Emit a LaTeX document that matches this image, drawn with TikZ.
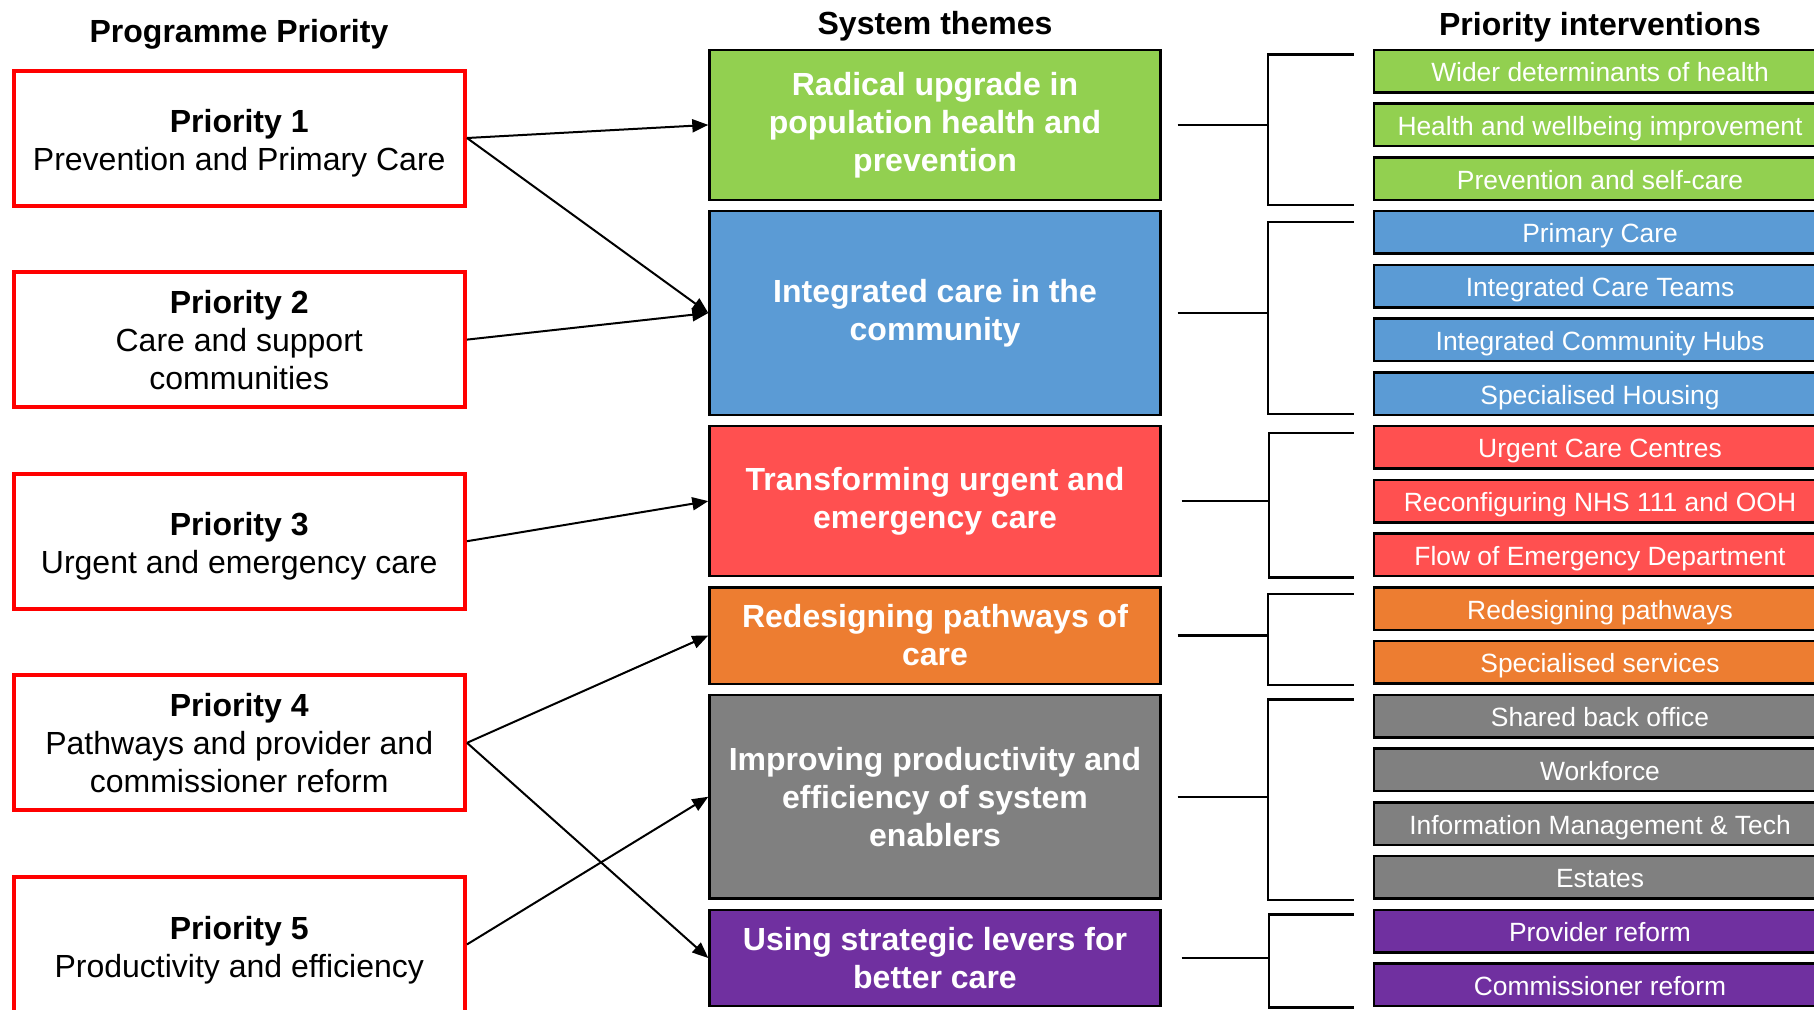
\documentclass[tikz,border=0pt]{standalone}
\usepackage{fontspec}
\setmainfont{Liberation Sans}
\usetikzlibrary{positioning,arrows.meta}
\definecolor{popgreen}{HTML}{92D050}
\definecolor{carblue}{HTML}{5B9BD5}
\definecolor{urgred}{HTML}{FF5050}
\definecolor{pathorange}{HTML}{ED7D31}
\definecolor{enabgray}{HTML}{808080}
\definecolor{levpurple}{HTML}{7030A0}
\newcommand{\toplift}{\rule{0pt}{17pt}}

\begin{document}
\begin{tikzpicture}[
    x=0.5pt, y=-0.5pt,
    font=\fontsize{16}{19}\selectfont,
    node distance=4.375pt and 20pt,
    prio/.style={draw=red, line width=2pt, align=center, fill=white,
                 minimum width=225.75pt, minimum height=67.5pt},
    theme/.style={draw=black, line width=1.2pt, align=center, text=white,
                  minimum width=225.5pt, font=\fontsize{16}{19}\selectfont\bfseries},
    task/.style={draw=black, line width=1.2pt, text=white, inner sep=0pt,
                 text height=11.3pt, text depth=0.9pt,
                 minimum width=226pt, minimum height=21.3pt, font=\fontsize{13.2}{15}\selectfont},
    heading/.style={font=\fontsize{16}{19}\selectfont\bfseries},
    arrow/.style={-{Triangle[length=8pt,width=6.5pt]}, line width=1pt},
    brace/.style={line width=1.2pt},
  ]
    \useasboundingbox (0,0) rectangle (1814,1009);

    % column headings
    \node[heading] (hprio)  at (239,34.5)  {Programme Priority};
    \node[heading] (htheme) at (935,26.5)  {System themes};
    \node[heading] (htask)  at (1600,27)   {Priority interventions};

    % programme priorities
    \node[prio] (p1) at (239.25,138) {\toplift\textbf{Priority 1}\\Prevention and Primary Care};
    \node[prio, below=31.3pt of p1] (p2) {\textbf{Priority 2}\\Care and support\\communities};
    \node[prio, below=31.3pt of p2] (p3) {\toplift\textbf{Priority 3}\\Urgent and emergency care};
    \node[prio, below=31.3pt of p3] (p4) {\textbf{Priority 4}\\Pathways and provider and\\commissioner reform};
    \node[prio, below=31.3pt of p4] (p5) {\toplift\textbf{Priority 5}\\Productivity and efficiency};

    % system themes
    \node[theme, fill=popgreen,   minimum height=75pt]    (radical)  at (935,124.9)
       {Radical upgrade in\\population health and\\prevention};
    \node[theme, fill=carblue,    minimum height=101.9pt] (intcare)  at (935,313)
       {Integrated care in the\\community};
    \node[theme, fill=urgred,     minimum height=75pt]    (urgent)   at (935,501.1)
       {Transforming urgent and\\emergency care};
    \node[theme, fill=pathorange, minimum height=48.2pt]  (pathways) at (935,635.5)
       {Redesigning pathways of\\care};
    \node[theme, fill=enabgray,   minimum height=101.9pt] (enablers) at (935,796.7)
       {Improving productivity and\\efficiency of system\\enablers};
    \node[theme, fill=levpurple,  minimum height=48.2pt]  (levers)   at (935,958)
       {Using strategic levers for\\better care};

    % priority interventions
    \node[task, fill=popgreen] (t1) at (1600,71.1) {Wider determinants of health};
    \node[task, fill=popgreen,   below=of t1]  (t2)  {Health and wellbeing improvement};
    \node[task, fill=popgreen,   below=of t2]  (t3)  {Prevention and self-care};
    \node[task, fill=carblue,    below=of t3]  (t4)  {Primary Care};
    \node[task, fill=carblue,    below=of t4]  (t5)  {Integrated Care Teams};
    \node[task, fill=carblue,    below=of t5]  (t6)  {Integrated Community Hubs};
    \node[task, fill=carblue,    below=of t6]  (t7)  {Specialised Housing};
    \node[task, fill=urgred,     below=of t7]  (t8)  {Urgent Care Centres};
    \node[task, fill=urgred,     below=of t8]  (t9)  {Reconfiguring NHS 111 and OOH};
    \node[task, fill=urgred,     below=of t9]  (t10) {Flow of Emergency Department};
    \node[task, fill=pathorange, below=of t10] (t11) {Redesigning pathways};
    \node[task, fill=pathorange, below=of t11] (t12) {Specialised services};
    \node[task, fill=enabgray,   below=of t12] (t13) {Shared back office};
    \node[task, fill=enabgray,   below=of t13] (t14) {Workforce};
    \node[task, fill=enabgray,   below=of t14] (t15) {Information Management \& Tech};
    \node[task, fill=enabgray,   below=of t15] (t16) {Estates};
    \node[task, fill=levpurple,  below=of t16] (t17) {Provider reform};
    \node[task, fill=levpurple,  below=of t17] (t18) {Commissioner reform};

    % priorities to themes
    \draw[arrow] (p1.east) -- (radical.west);
    \draw[arrow] (p1.east) -- (intcare.west);
    \draw[arrow] (p2.east) -- (intcare.west);
    \draw[arrow] (p3.east) -- (urgent.west);
    \draw[arrow] (p4.east) -- (pathways.west);
    \draw[arrow] (p4.east) -- (levers.west);
    \draw[arrow] (p5.east) -- (enablers.west);

    % brackets from themes to interventions
    \draw[brace] ([xshift=8pt]radical.east) -- ([xshift=53.25pt]radical.east);
    \draw[brace] ([xshift=-9.5pt,yshift=-3pt]t1.north west) -- ([xshift=-52.5pt,yshift=-3pt]t1.north west)
       |- ([xshift=-9.5pt,yshift=-2pt]t3.south west);
    \draw[brace] ([xshift=8pt]intcare.east) -- ([xshift=53.25pt]intcare.east);
    \draw[brace] ([xshift=-9.5pt,yshift=-6pt]t4.north west) -- ([xshift=-52.5pt,yshift=-6pt]t4.north west)
       |- ([xshift=-9.5pt,yshift=1pt]t7.south west);
    \draw[brace] ([xshift=10pt]urgent.east) -- ([xshift=54pt]urgent.east);
    \draw[brace] ([xshift=-9.5pt,yshift=-4pt]t8.north west) -- ([xshift=-51.8pt,yshift=-4pt]t8.north west)
       |- ([xshift=-9.5pt,yshift=0pt]t10.south west);
    \draw[brace] ([xshift=8pt]pathways.east) -- ([xshift=53.25pt]pathways.east);
    \draw[brace] ([xshift=-9.5pt,yshift=-4pt]t11.north west) -- ([xshift=-52.5pt,yshift=-4pt]t11.north west)
       |- ([xshift=-9.5pt,yshift=0pt]t12.south west);
    \draw[brace] ([xshift=8pt]enablers.east) -- ([xshift=53.25pt]enablers.east);
    \draw[brace] ([xshift=-9.5pt,yshift=-3pt]t13.north west) -- ([xshift=-52.5pt,yshift=-3pt]t13.north west)
       |- ([xshift=-9.5pt,yshift=0pt]t16.south west);
    \draw[brace] ([xshift=10pt]levers.east) -- ([xshift=54pt]levers.east);
    \draw[brace] ([xshift=-9.5pt,yshift=-3pt]t17.north west) -- ([xshift=-51.8pt,yshift=-3pt]t17.north west)
       |- ([xshift=-9.5pt,yshift=0pt]t18.south west);
  \end{tikzpicture}
\end{document}
